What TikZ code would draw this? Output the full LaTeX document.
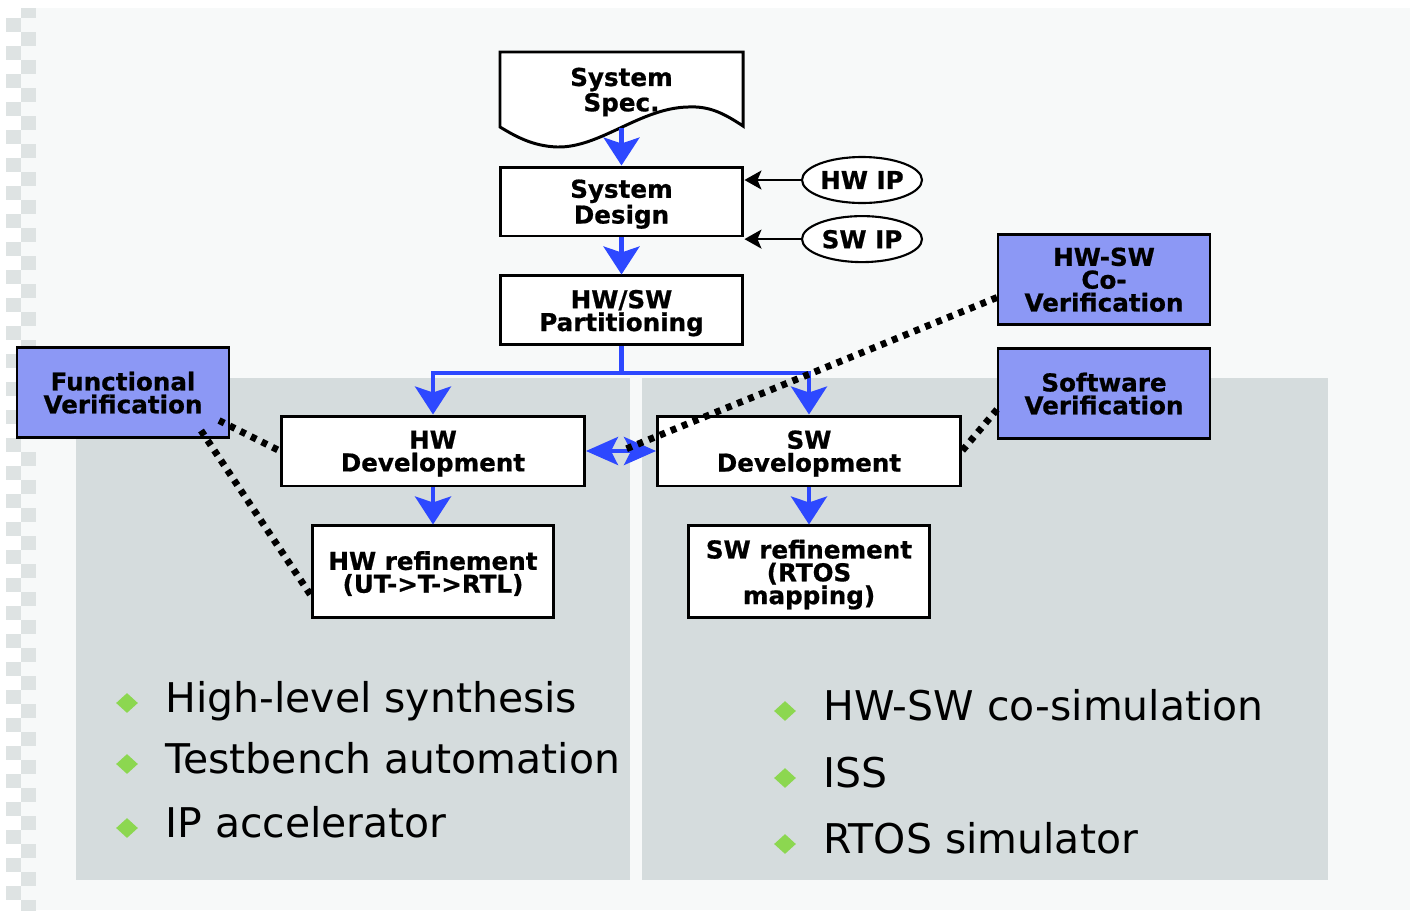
\documentclass[tikz,border=0pt]{standalone}
\usepackage{fontspec}
\usepackage{tikz}
\usetikzlibrary{positioning}
\usetikzlibrary{calc}
\usetikzlibrary{arrows.meta}
\usetikzlibrary{shapes}
\newfontfamily\boxfamily[BoldFeatures={FakeBold=0.7}]{DejaVu Sans}
\definecolor{pagebg}{RGB}{247,249,249}
\definecolor{checkgray}{RGB}{222,227,227}
\definecolor{panelgray}{RGB}{213,220,221}
\definecolor{verifblue}{RGB}{140,152,245}
\definecolor{flowblue}{RGB}{45,72,255}
\definecolor{bulletgreen}{RGB}{140,215,80}

\begin{document}
\begin{tikzpicture}[
    x=0.02cm, y=-0.02cm,    % one unit is one pixel of the slide
    node distance=0.74cm,   % gap between boxes of one column
    ]
% -------------------------------------------------
\tikzset{
  base/.style={draw, line width=1.7pt, fill=white, align=center, inner sep=0pt,
    font=\boxfamily\bfseries\fontsize{14}{13}\selectfont, text depth=-2.2pt},
  proc/.style={base, rectangle, minimum width=4.86cm, minimum height=1.38cm},
  dev/.style={base, rectangle, minimum width=6.06cm, minimum height=1.4cm},
  refi/.style={base, rectangle, minimum width=4.84cm, minimum height=1.84cm},
  verif/.style={base, rectangle, line width=1.2pt, fill=verifblue, minimum width=4.24cm, minimum height=1.8cm},
  ip/.style={base, ellipse, line width=1.2pt, minimum width=2.4cm, minimum height=0.92cm, text depth=0pt},
  flow/.style={draw=flowblue, line width=2.3pt, -{Stealth[length=0.56cm, width=0.72cm, inset=0.12cm]}},
  twoway/.style={draw=flowblue, line width=2.3pt,
    {Stealth[length=0.64cm, width=0.56cm, inset=0.14cm]}-{Stealth[length=0.64cm, width=0.56cm, inset=0.14cm]}},
  feed/.style={draw, line width=1.2pt, -{Stealth[length=0.34cm, width=0.38cm, inset=0.08cm]}},
  check/.style={draw, line width=3.9pt, dash pattern=on 3.3pt off 3.5pt},
  dot/.style={diamond, fill=bulletgreen, minimum width=0.44cm, minimum height=0.4cm, inner sep=0pt},
  item/.style={anchor=base west, inner sep=0pt, font=\boxfamily\fontsize{23.3}{28}\selectfont}
}
\useasboundingbox (0,0) rectangle (1410,910);
% slide background and its checkered edge
\fill[white] (0,0) rectangle (1410,910);
\fill[pagebg] (6,8) rectangle (1410,910);
\begin{scope}
  \clip (6,8) rectangle (36,910);
  \foreach \k in {0,...,32} {
    \fill[white] (6,4+28*\k) rectangle (21,18+28*\k);
    \fill[checkgray] (21,4+28*\k) rectangle (36,18+28*\k);
    \fill[checkgray] (6,18+28*\k) rectangle (21,32+28*\k);
  }
\end{scope}
\fill[panelgray] (76,378) rectangle (630,880);
\fill[panelgray] (642,378) rectangle (1328,880);

% document shape of the specification
\filldraw[fill=white, line width=1.7pt] (500,127) -- (500,52) -- (743,52) -- (743,126)
  .. controls (722,112) and (708,106) .. (688,107)
  .. controls (640,108) and (600,148) .. (557,147)
  .. controls (532,146) and (515,136) .. (500,127) -- cycle;

\node [base, draw=none, fill=none, minimum width=4.86cm, minimum height=1.5cm] (spec) at (621.5,89.5) {System\\Spec.};
\node [proc] (design) at (621.5,201.5) {System\\Design};
\node [proc, below=of design] (part) {HW/SW\\Partitioning};
\node [ip] (hwip) at (862,180) {HW IP};
\node [ip, below=0.22cm of hwip] (swip) {SW IP};
\node [verif] (cover) at (1104,279.5) {HW-SW\\Co-\\Verification};
\node [verif] (swver) at (1104,393.5) {Software\\Verification};
\node [verif] (funcver) at (123,392.5) {Functional\\Verification};
\node [dev] (hwdev) at (433,451) {HW\\Development};
\node [dev] (swdev) at (809,451) {SW\\Development};
\node [refi, below=of hwdev] (hwref) {HW refinement\\(UT->T->RTL)};
\node [refi, below=of swdev] (swref) {SW refinement\\(RTOS\\mapping)};

\coordinate (split) at ($(part.south)+(0,27)$);
\coordinate (mid) at ($(hwdev.east)!0.5!(swdev.west)$);

\path [flow] (spec.south) -- (design.north);
\path [flow] (design.south) -- (part.north);
\draw [flowblue, line width=2.3pt] (part.south) -- (split);
\path [flow] (split) -| (hwdev.north);
\path [flow] (split) -| (swdev.north);
\path [flow] (hwdev.south) -- (hwref.north);
\path [flow] (swdev.south) -- (swref.north);
\path [twoway] (hwdev.east) -- (swdev.west);
\path [feed] (hwip.west) -- (hwip.west -| design.east);
\path [feed] (swip.west) -- (swip.west -| design.east);

\path [check] ([shift={(-11,28)}]funcver.east) -- (hwdev.west);
\path [check] ([shift={(-29,-8)}]funcver.south east) -- ([yshift=-0.46cm]hwref.west);
\path [check] ([yshift=-0.36cm]cover.west) -- (mid);
\path [check] ([yshift=-0.32cm]swver.west) -- (swdev.east);

% tool lists
\foreach \y/\txt in {712/High-level synthesis, 773/Testbench automation, 837/IP accelerator} {
  \node [dot] (hwdot\y) at (127,\y-9) {};
  \node [item] (hwtxt\y) at (165,\y) {\txt};
}
\foreach \y/\txt in {720/HW-SW co-simulation, 787/ISS, 853/RTOS simulator} {
  \node [dot] (swdot\y) at (785,\y-9) {};
  \node [item] (swtxt\y) at (823,\y) {\txt};
}
\end{tikzpicture}
\end{document}
